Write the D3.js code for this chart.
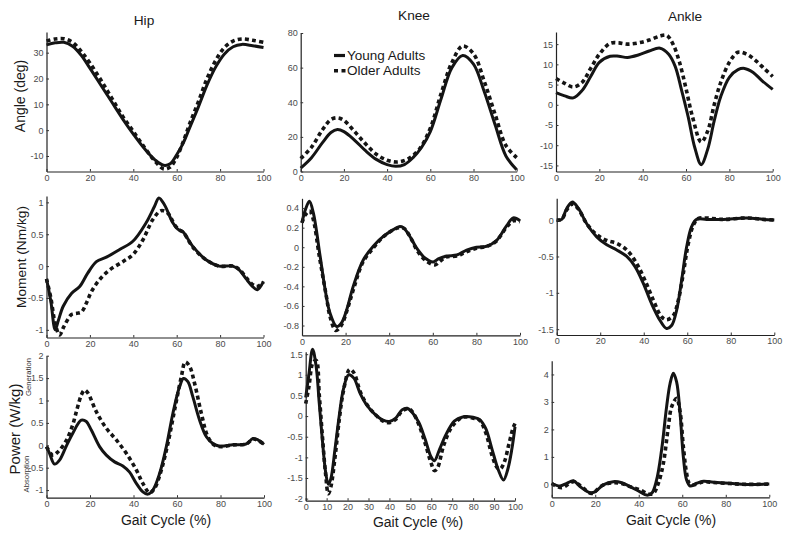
<!DOCTYPE html>
<html><head><meta charset="utf-8">
<script src="https://cdn.jsdelivr.net/npm/d3@7"></script>
<style>
html,body{margin:0;padding:0;background:#fff;}
svg{display:block;font-family:"Liberation Sans",Arial,sans-serif;}
</style></head>
<body><svg id="chart" width="800" height="539"></svg>
<script>
// ---------- data (x = % gait cycle, y = value) ----------
const hipAngleYoung = [[0,33],[4,33.8],[8,34],[12,32.5],[16,29],[20,24],[25,17.5],[30,11],[35,4.5],[40,-1.5],[45,-7],[50,-11.5],[54,-13.6],[57,-13],[60,-9.5],[63,-5],[66,1],[70,9],[74,17.5],[78,24.5],[82,29.5],[86,32.3],[90,33.2],[95,32.7],[100,32]];
const hipAngleOlder = [[0,34.5],[4,35.3],[8,35.4],[12,34],[16,30.5],[20,26],[25,19.5],[30,12.5],[35,5.5],[40,-0.5],[45,-6.5],[50,-12],[54,-15],[57,-14.3],[60,-10.5],[63,-4.5],[66,2.5],[70,11],[74,20],[78,27],[82,32],[86,34.5],[90,35.3],[95,34.8],[100,34]];
const kneeAngleYoung = [[0,2],[5,8],[10,16.5],[14,22.5],[17,24.2],[20,23],[25,18],[30,12],[35,7],[40,4],[44,3],[48,4],[52,8],[56,14],[60,23],[65,42],[70,60],[75,67],[80,62],[85,46],[90,27],[95,9],[100,1]];
const kneeAngleOlder = [[0,7.5],[5,14],[10,24],[14,30],[17,31],[20,29.5],[25,23],[30,16],[35,10],[40,6.5],[45,5.5],[50,7.5],[55,13],[60,25],[65,45],[70,63],[75,72.5],[80,68],[85,52],[90,33],[95,15],[100,8]];
const ankleAngleYoung = [[0,3],[4,2.2],[8,1.7],[12,3.5],[16,7],[20,10.5],[25,12],[29,12],[33,11.7],[38,12.3],[43,13.3],[48,14],[52,12.5],[55,9.5],[58,3.5],[61,-3],[64,-10.5],[67,-14.8],[70,-11],[73,-4],[76,2],[80,6.8],[84,8.7],[87,9],[91,8],[95,6],[100,3.8]];
const ankleAngleOlder = [[0,6.5],[4,5.3],[8,4.4],[12,5.5],[16,9],[20,12.5],[25,15.2],[29,15.3],[33,15],[38,15.3],[43,16],[48,17],[51,17.2],[54,15],[57,10.5],[60,4],[63,-3],[67,-9.2],[70,-6.5],[73,0],[76,5.5],[80,10.5],[84,13],[88,12.5],[92,11],[96,9],[100,7]];

const hipMomentYoung = [[0,-0.2],[2,-0.55],[4,-1.0],[5.5,-0.85],[7.7,-0.63],[11.5,-0.43],[15.3,-0.32],[19,-0.11],[23,0.07],[27.6,0.14],[33.7,0.26],[39.8,0.39],[45.9,0.68],[49.8,0.94],[51.8,1.07],[54.4,0.96],[58.2,0.68],[60.5,0.58],[62.8,0.54],[67.4,0.31],[73.5,0.1],[79.6,0.0],[85.8,0.0],[88.8,-0.06],[92,-0.2],[95,-0.32],[97.2,-0.37],[100,-0.24]];
const hipMomentOlder = [[0,-0.2],[2,-0.5],[4,-0.9],[6,-1.08],[8,-0.95],[11.5,-0.76],[14,-0.74],[16.1,-0.72],[18.5,-0.57],[20.7,-0.4],[24.5,-0.21],[29.1,-0.06],[35.2,0.07],[39.8,0.18],[44.4,0.41],[49,0.73],[52.8,0.87],[55.9,0.83],[59,0.65],[61,0.57],[63,0.53],[67.4,0.3],[73.5,0.1],[79.6,0.0],[85.8,0.0],[88.8,-0.05],[92,-0.18],[95,-0.29],[97,-0.32],[100,-0.25]];
const kneeMomentYoung = [[0,0.25],[1.5,0.38],[3.4,0.47],[5.2,0.35],[8.3,-0.09],[10.6,-0.43],[12.8,-0.67],[15.9,-0.81],[18.2,-0.77],[20.5,-0.64],[23.5,-0.4],[28.1,-0.13],[32.7,0.01],[37.3,0.11],[41.9,0.18],[44.5,0.21],[46.5,0.2],[49.5,0.11],[52.6,-0.01],[56.4,-0.11],[60.2,-0.15],[62.5,-0.12],[66.4,-0.09],[71,-0.08],[75.5,-0.03],[80,0.0],[84.7,0.01],[89.3,0.07],[93.9,0.22],[96.9,0.3],[100,0.27]];
const kneeMomentOlder = [[0,0.25],[1.5,0.33],[3.5,0.37],[5,0.3],[8,-0.1],[11,-0.48],[13,-0.72],[15.5,-0.85],[18,-0.8],[21,-0.62],[24,-0.4],[28,-0.15],[33,0.0],[37,0.1],[42,0.18],[45,0.2],[47,0.19],[50,0.09],[53,-0.04],[57,-0.14],[61,-0.18],[63,-0.15],[66,-0.1],[71,-0.09],[75,-0.05],[80,-0.01],[85,0.01],[89,0.06],[94,0.21],[97,0.27],[100,0.26]];
const ankleMomentYoung = [[0,0],[2.3,0.01],[4.6,0.16],[7.2,0.25],[10,0.16],[13.8,-0.05],[18.4,-0.23],[23,-0.34],[27.6,-0.41],[32.2,-0.5],[36,-0.64],[39.8,-0.87],[43.6,-1.15],[47.5,-1.38],[50.5,-1.49],[52.8,-1.45],[55.1,-1.24],[57.4,-0.83],[59.7,-0.37],[62,-0.09],[64.3,0.01],[68.9,0.01],[76.6,0.01],[87.3,0.03],[94.9,0.01],[100,0]];
const ankleMomentOlder = [[0,0],[2.3,0.01],[4.6,0.14],[7.2,0.22],[10,0.15],[13.8,-0.05],[18.4,-0.2],[23,-0.28],[27.6,-0.32],[32.2,-0.41],[36.8,-0.6],[40.6,-0.83],[44.4,-1.1],[48.2,-1.33],[50.5,-1.37],[53.6,-1.31],[55.9,-1.1],[58.2,-0.73],[60.5,-0.32],[62.8,-0.07],[65,0.02],[68,0.03],[76.6,0.01],[87.3,0.03],[94.9,0.01],[100,0]];

const hipPowerYoung = [[0,-0.03],[1.4,-0.18],[3.7,-0.42],[6,-0.33],[9,-0.03],[12.1,0.27],[16,0.56],[18.3,0.53],[20.6,0.34],[24.4,-0.03],[27.5,-0.22],[31.3,-0.37],[35.1,-0.46],[38.2,-0.6],[41.3,-0.85],[44.3,-1.04],[46.6,-1.09],[48.9,-1.0],[52,-0.63],[55.1,-0.03],[58.1,0.71],[61.2,1.31],[63,1.49],[65,1.42],[67.3,1.08],[70.4,0.56],[73.5,0.19],[76.5,0.04],[79.6,-0.02],[85.7,0.01],[91.9,0.03],[94.9,0.15],[97.2,0.12],[100,0.02]];
const hipPowerOlder = [[0,-0.03],[2.9,-0.22],[5.2,-0.15],[9,0.1],[12,0.45],[14,0.8],[16,1.12],[17.5,1.23],[19,1.17],[22.9,0.75],[27.5,0.38],[32.1,0.12],[36.7,-0.18],[41.3,-0.55],[44.3,-0.85],[47.4,-1.06],[49.7,-0.96],[52.8,-0.55],[55.8,0.04],[58.9,0.79],[62,1.53],[63.8,1.86],[65.8,1.76],[68.1,1.38],[71.2,0.71],[74.2,0.19],[77.3,0.0],[80.4,-0.03],[85.7,0.01],[91.9,0.03],[94.9,0.14],[97.2,0.11],[100,0.02]];
const kneePowerYoung = [[0,0.45],[1.5,1.0],[3.3,1.62],[5,1.2],[6.5,0.3],[8,-0.6],[9.5,-1.35],[10.8,-1.65],[12,-1.52],[14,-0.8],[16,0.0],[18,0.65],[20.5,1.0],[23,0.92],[26,0.55],[29,0.28],[33,0.05],[37,-0.1],[40,-0.13],[43,-0.05],[46,0.15],[48.5,0.19],[51,0.08],[54,-0.15],[57,-0.55],[60,-1.0],[61.5,-1.08],[64,-0.8],[67,-0.45],[71,-0.12],[75,-0.02],[80,-0.03],[83,-0.08],[86,-0.3],[89,-0.8],[92,-1.3],[94.5,-1.55],[96.5,-1.3],[98.5,-0.8],[100,-0.26]];
const kneePowerOlder = [[0,0.3],[1.5,0.7],[3.5,1.3],[5,1.35],[6.5,0.5],[8,-0.5],[9.5,-1.4],[10.8,-1.88],[12,-1.72],[14,-1.0],[16,-0.1],[18,0.6],[21,1.13],[23,1.05],[26,0.6],[29,0.3],[33,0.05],[37,-0.12],[40,-0.16],[43,-0.08],[46,0.12],[49,0.18],[51,0.1],[54,-0.2],[57,-0.65],[60,-1.15],[61.5,-1.32],[63,-1.25],[66,-0.7],[70,-0.25],[75,-0.03],[80,-0.05],[83,-0.1],[86,-0.4],[89,-0.95],[91.5,-1.25],[93,-1.28],[95,-1.1],[97,-0.7],[99,-0.3],[100,-0.18]];
const anklePowerYoung = [[0,0.04],[3.8,-0.06],[6.9,0.04],[10,0.13],[13,-0.08],[17.6,-0.3],[19.9,-0.27],[23.7,-0.02],[28.3,0.1],[32.2,0.06],[36,-0.08],[40.6,-0.27],[43.6,-0.39],[45.9,-0.33],[48.2,0.16],[50.5,1.25],[52.8,2.82],[54.4,3.67],[55.9,4.04],[57.4,3.73],[59,2.58],[60.5,1.0],[62,0.16],[63.6,-0.06],[66.6,0.04],[69.7,0.11],[74.3,0.08],[81.9,0.04],[89.6,0.0],[100,0.01]];
const anklePowerOlder = [[0,0.03],[4.6,-0.12],[10,0.1],[14,-0.1],[18.4,-0.33],[23,-0.05],[28.3,0.06],[32.2,0.03],[36,-0.08],[40.6,-0.2],[44.4,-0.35],[46.7,-0.33],[49,0.04],[51.3,0.76],[53.6,2.1],[55.1,2.82],[57.4,3.13],[59,2.64],[60.5,1.37],[62,0.4],[63.2,0.04],[65.1,-0.02],[69.7,0.09],[74.3,0.07],[81.9,0.03],[89.6,0.0],[100,0.01]];

// tick labels
const xTicks20 = [0,20,40,60,80,100];
const xTicks10 = [0,10,20,30,40,50,60,70,80,90,100];
const hipAngleTicks = [-10,0,10,20,30];
const kneeAngleTicks = [0,20,40,60,80];
const ankleAngleTicks = [-15,-10,-5,0,5,10,15];
const hipMomentTicks = [-1,-0.5,0,0.5,1];
const kneeMomentTicks = [-0.8,-0.6,-0.4,-0.2,0,0.2,0.4];
const ankleMomentTicks = [-1.5,-1,-0.5,0];
const hipPowerTicks = [-1,-0.5,0,0.5,1,1.5,2];
const kneePowerTicks = [-2,-1.5,-1,-0.5,0,0.5,1,1.5];
const anklePowerTicks = [0,1,2,3,4];

const jointTitles = ["Hip","Knee","Ankle"];
const rowLabels = ["Angle (deg)","Moment (Nm/kg)","Power (W/kg)"];
const seriesNames = ["Young Adults","Older Adults"];
const xLabel = "Gait Cycle (%)";

// ---------- layout ----------
const panels = [
  {young:hipAngleYoung, older:hipAngleOlder, dom:[-16,38], yt:hipAngleTicks, xt:xTicks20, x:[46.5,263.5], y:[32,171.5]},
  {young:kneeAngleYoung, older:kneeAngleOlder, dom:[0,80], yt:kneeAngleTicks, xt:xTicks20, x:[300.7,516.7], y:[33,171.5]},
  {young:ankleAngleYoung, older:ankleAngleOlder, dom:[-16.5,18], yt:ankleAngleTicks, xt:xTicks20, x:[556,772.7], y:[32,171.5]},
  {young:hipMomentYoung, older:hipMomentOlder, dom:[-1.12,1.1], yt:hipMomentTicks, xt:xTicks20, x:[46.5,263.5], y:[196,337.5]},
  {young:kneeMomentYoung, older:kneeMomentOlder, dom:[-0.9,0.5], yt:kneeMomentTicks, xt:xTicks20, x:[302,520], y:[198.3,335.3]},
  {young:ankleMomentYoung, older:ankleMomentOlder, dom:[-1.58,0.3], yt:ankleMomentTicks, xt:xTicks20, x:[556.7,774.3], y:[198.3,335]},
  {young:hipPowerYoung, older:hipPowerOlder, dom:[-1.17,2], yt:hipPowerTicks, xt:xTicks20, x:[46.5,264], y:[355.7,497.7]},
  {young:kneePowerYoung, older:kneePowerOlder, dom:[-2.05,1.56], yt:kneePowerTicks, xt:xTicks10, x:[305.7,515], y:[351.7,500.7]},
  {young:anklePowerYoung, older:anklePowerOlder, dom:[-0.47,4.5], yt:anklePowerTicks, xt:xTicks20, x:[551.7,769.3], y:[360.7,497.3]}
];

const svg = d3.select("#chart");
const ink = "#141414";
const fmt = d => String(d);

panels.forEach(p => {
  const xs = d3.scaleLinear().domain([0,100]).range(p.x);
  const ys = d3.scaleLinear().domain(p.dom).range([p.y[1], p.y[0]]);
  const g = svg.append("g");

  const line = d3.line().x(d => xs(d[0])).y(d => ys(d[1])).curve(d3.curveCatmullRom.alpha(0.5));
  g.append("path").datum(p.older).attr("d", line).attr("fill","none")
    .attr("stroke", ink).attr("stroke-width", 3.6).attr("stroke-dasharray","4,3.2");
  g.append("path").datum(p.young).attr("d", line).attr("fill","none")
    .attr("stroke", ink).attr("stroke-width", 3).attr("stroke-linejoin","round");

  const xa = g.append("g").attr("transform", `translate(0,${p.y[1]})`)
    .call(d3.axisBottom(xs).tickValues(p.xt).tickFormat(fmt).tickSize(-2.5).tickSizeOuter(0).tickPadding(3));
  const ya = g.append("g").attr("transform", `translate(${p.x[0]},0)`)
    .call(d3.axisLeft(ys).tickValues(p.yt).tickFormat(fmt).tickSize(-2.5).tickSizeOuter(0).tickPadding(3));
  [xa, ya].forEach(a => {
    a.select(".domain").attr("stroke","#222").attr("stroke-width",1.2);
    a.selectAll(".tick line").attr("stroke","#333");
    a.selectAll("text").attr("font-size", 9).attr("fill","#4a4a4a")
      .attr("font-family", '"Liberation Sans",Arial,sans-serif');
  });
});

// column titles
const titlePos = [[144,25],[414,20],[685,20.5]];
jointTitles.forEach((t,i) => {
  svg.append("text").attr("x", titlePos[i][0]).attr("y", titlePos[i][1])
    .attr("text-anchor","middle").attr("font-size",13.7).attr("fill","#1a1a1a").text(t);
});

// row labels
const rowPos = [[25,96,14],[26,257,13.7],[20,429,15]];
rowLabels.forEach((t,i) => {
  svg.append("text").attr("transform", `translate(${rowPos[i][0]},${rowPos[i][1]}) rotate(-90)`)
    .attr("text-anchor","middle").attr("font-size",rowPos[i][2]).attr("fill","#1a1a1a").text(t);
});
svg.append("text").attr("transform","translate(31,377) rotate(-90)")
  .attr("text-anchor","middle").attr("font-size",7.7).attr("fill","#333").text("Generation");
svg.append("text").attr("transform","translate(29,474) rotate(-90)")
  .attr("text-anchor","middle").attr("font-size",7.7).attr("fill","#333").text("Absorption");

// x labels
[[166,524.5],[418,527],[671,524.5]].forEach(c => {
  svg.append("text").attr("x", c[0]).attr("y", c[1]).attr("text-anchor","middle")
    .attr("font-size",14).attr("fill","#1a1a1a").text(xLabel);
});

// legend
const leg = svg.append("g");
leg.append("line").attr("x1",334).attr("x2",345).attr("y1",55.5).attr("y2",55.5)
  .attr("stroke",ink).attr("stroke-width",3.2);
leg.append("line").attr("x1",334).attr("x2",346).attr("y1",70.7).attr("y2",70.7)
  .attr("stroke",ink).attr("stroke-width",3.6).attr("stroke-dasharray","4,3.5");
leg.append("text").attr("x",347).attr("y",60).attr("font-size",13.5).attr("fill","#1a1a1a").text(seriesNames[0]);
leg.append("text").attr("x",347).attr("y",75.3).attr("font-size",13.5).attr("fill","#1a1a1a").text(seriesNames[1]);
</script>
</body></html>
